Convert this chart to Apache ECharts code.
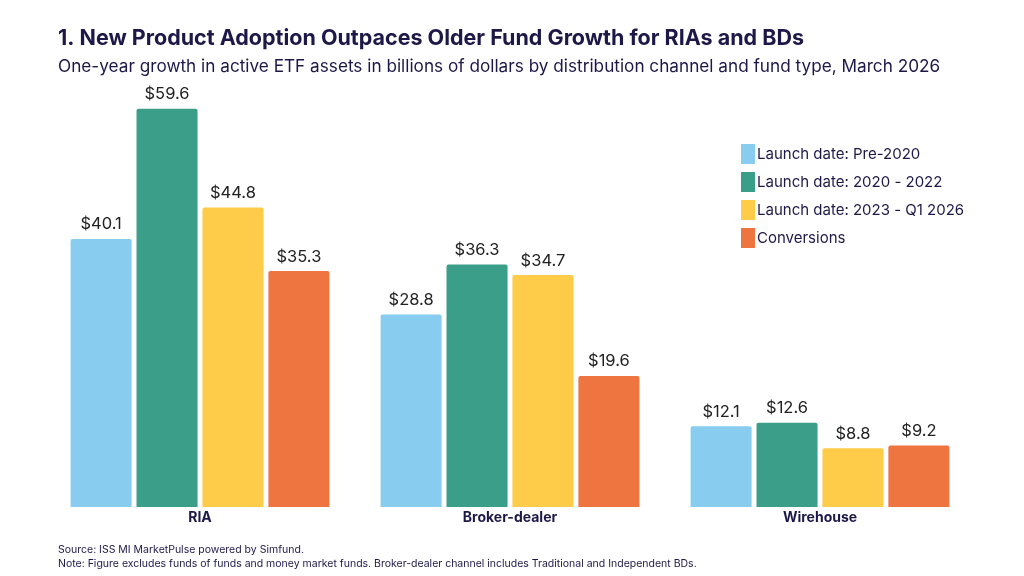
<!DOCTYPE html>
<html>
<head>
<meta charset="utf-8">
<script src="https://cdn.jsdelivr.net/npm/echarts@6/dist/echarts.min.js"></script>
<style>
html,body{margin:0;padding:0;background:#fff;}
#chart{width:1024px;height:576px;}
</style>
</head>
<body>
<div id="chart"></div>
<script>
"use strict";
let channels = ["RIA", "Broker-dealer", "Wirehouse"];
let seriesNames = ["Launch date: Pre-2020", "Launch date: 2020 - 2022", "Launch date: 2023 - Q1 2026", "Conversions"];
let pre2020 = [40.1, 28.8, 12.1];
let launch2020to2022 = [59.6, 36.3, 12.6];
let launch2023toQ12026 = [44.8, 34.7, 8.8];
let conversions = [35.3, 19.6, 9.2];
let colors = ["#88CDF0", "#3A9E88", "#FFCC4A", "#EE7440"];

let seriesData = [pre2020, launch2020to2022, launch2023toQ12026, conversions];
let navy = "#1E1848";
let font = "Inter, 'Noto Sans', sans-serif";

let chart = echarts.init(document.getElementById("chart"));
let option = {
    animation:false,
    color:colors,
    textStyle:{fontFamily:font},
    title:[
        {
            text:"1. New Product Adoption Outpaces Older Fund Growth for RIAs and BDs",
            left:53, top:23,
            textStyle:{fontSize:21.5, fontWeight:"bold", color:navy, fontFamily:font}
        },
        {
            text:"One-year growth in active ETF assets in billions of dollars by distribution channel and fund type, March 2026",
            left:53, top:53,
            textStyle:{fontSize:17.2, fontWeight:"normal", color:navy, fontFamily:font}
        },
        {
            text:"Source: ISS MI MarketPulse powered by Simfund.\nNote: Figure excludes funds of funds and money market funds. Broker-dealer channel includes Traditional and Independent BDs.",
            left:53, top:538,
            textStyle:{fontSize:10.5, fontWeight:"normal", color:navy, lineHeight:14, fontFamily:font}
        }
    ],
    legend:{
        orient:"vertical",
        left:736, top:139,
        itemWidth:14, itemHeight:20,
        itemGap:8,
        icon:"rect",
        textStyle:{fontSize:15, color:navy, padding:[0,0,0,-3]},
        data:seriesNames
    },
    grid:{left:45, right:49, top:106, bottom:69},
    xAxis:{
        type:"category",
        data:channels,
        axisLine:{show:false},
        axisTick:{show:false},
        axisLabel:{fontSize:14, fontWeight:"bold", color:navy, margin:4}
    },
    yAxis:{
        type:"value",
        min:0, max:60,
        show:false
    },
    series:seriesData.map(function(d, i){
        return {
            type:"bar",
            name:seriesNames[i],
            data:d,
            barGap:"8%",
            barCategoryGap:"16.5%",
            itemStyle:{borderRadius:[2,2,0,0]},
            label:{
                show:true,
                position:"top",
                distance:6,
                fontSize:16.5,
                color:"#222",
                formatter:function(p){ return "$" + p.value.toFixed(1); }
            }
        };
    })
};
chart.setOption(option);
</script>
</body>
</html>
